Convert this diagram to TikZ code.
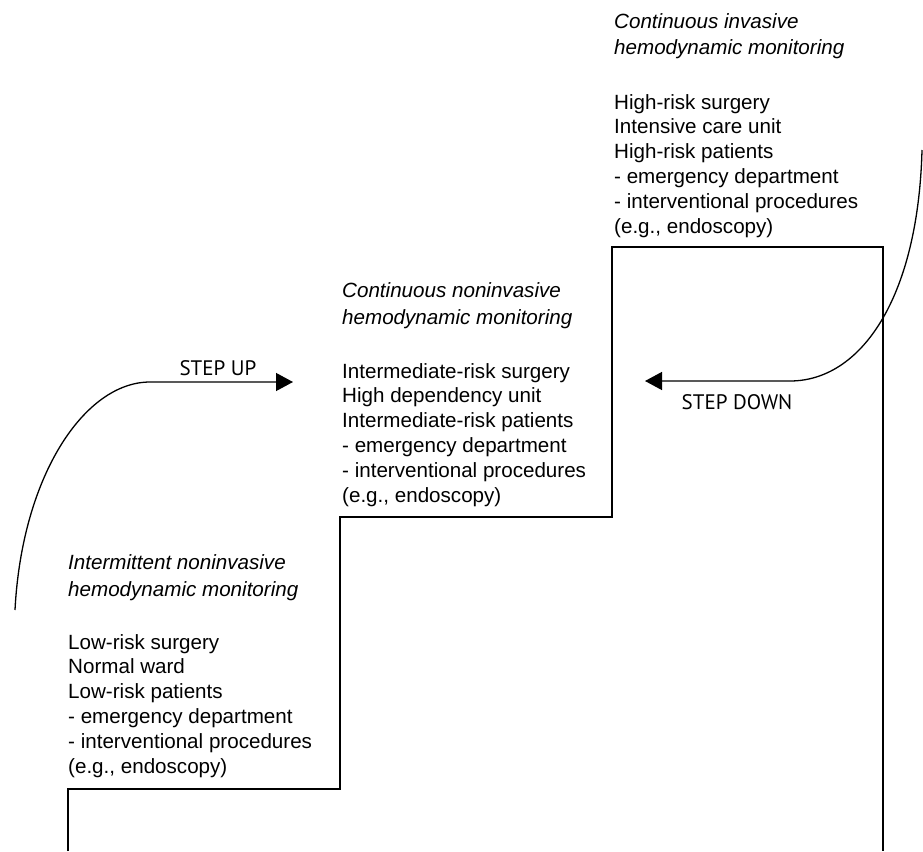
\documentclass[tikz,border=0pt]{standalone}
\usepackage{fontspec}
\setmainfont{Liberation Sans}
\newfontfamily\stepfont{PT Sans}
\usetikzlibrary{arrows.meta}
\begin{document}
\begin{tikzpicture}[x=1pt,y=-1pt,
  stair/.style={line width=1.6pt, line join=miter},
  curvearrow/.style={line width=1.3pt, -{Triangle[length=17pt,width=18pt]}},
  body/.style={anchor=base west, inner sep=0pt, align=left, font=\fontsize{20.6}{24.8}\selectfont},
  head/.style={anchor=base west, inner sep=0pt, align=left, font=\fontsize{20.6}{26.5}\selectfont\itshape},
  steplabel/.style={inner sep=0pt, font=\stepfont\fontsize{21}{25}\selectfont}]
\useasboundingbox (0,0) rectangle (923,851);
% staircase
\coordinate (s0) at (68,851);
\coordinate (s1) at (68,789);
\coordinate (s2) at (340,789);
\coordinate (s3) at (340,517);
\coordinate (s4) at (612,517);
\coordinate (s5) at (612,247);
\coordinate (s6) at (883,247);
\coordinate (s7) at (883,851);
\draw[stair] (s0) -- (s1) -- (s2) -- (s3) -- (s4) -- (s5) -- (s6) -- (s7);
% text blocks (anchor = baseline of last line)
\node[head] (h1) at (68,596) {Intermittent noninvasive\\hemodynamic monitoring};
\node[body] (b1) at (68,773) {Low-risk surgery\\Normal ward\\Low-risk patients\\- emergency department\\- interventional procedures\\(e.g., endoscopy)};
\node[head] (h2) at (342,324) {Continuous noninvasive\\hemodynamic monitoring};
\node[body] (b2) at (342,502) {Intermediate-risk surgery\\High dependency unit\\Intermediate-risk patients\\- emergency department\\- interventional procedures\\(e.g., endoscopy)};
\node[head] (h3) at (614,55) {Continuous invasive\\hemodynamic monitoring};
\node[body] (b3) at (614,233) {High-risk surgery\\Intensive care unit\\High-risk patients\\- emergency department\\- interventional procedures\\(e.g., endoscopy)};
% step up
\coordinate (upstart) at (15,610);
\coordinate (upbend) at (150,382);
\coordinate (uptip) at (293,382);
\draw[curvearrow] (upstart) .. controls (22,475) and (85,382) .. (upbend) -- (uptip);
\node[steplabel] (uplabel) at (218,368) {STEP UP};
% step down
\coordinate (downstart) at (922,150);
\coordinate (downbend) at (790,381);
\coordinate (downtip) at (645,381);
\draw[curvearrow] (downstart) .. controls (918,300) and (860,381) .. (downbend) -- (downtip);
\node[steplabel] (downlabel) at (737,402) {STEP DOWN};
\end{tikzpicture}
\end{document}
